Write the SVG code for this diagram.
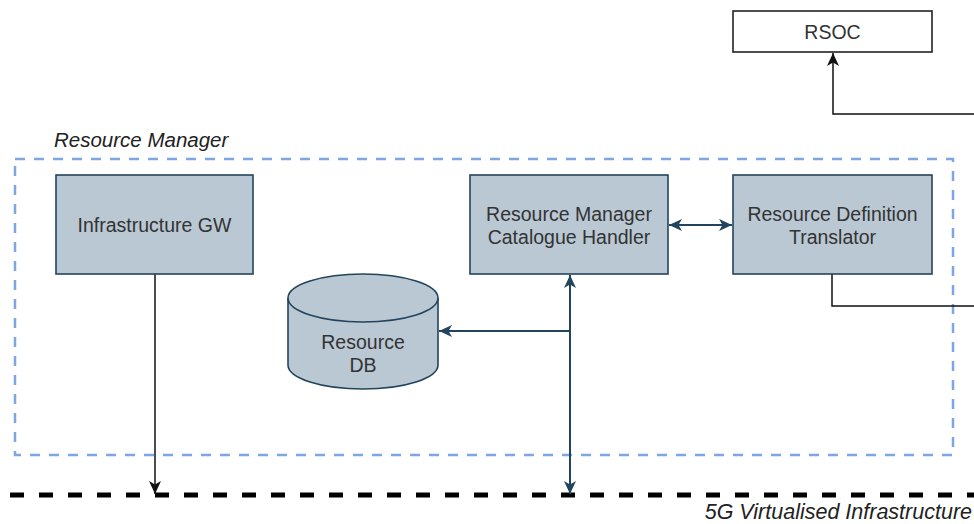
<svg xmlns="http://www.w3.org/2000/svg" width="974" height="524" viewBox="0 0 974 524">
  <defs>
    <style>
      .node rect, .node path.body, .node ellipse { fill: #bac8d3; stroke: #23445d; stroke-width: 1.6; }
      .label { font-family: "Liberation Sans", Arial, sans-serif; font-size: 19.5px; fill: #333333; text-anchor: middle; }
      .title { font-family: "Liberation Sans", Arial, sans-serif; font-style: italic; fill: #222222; }
      .blue { fill: none; stroke: #23445d; stroke-width: 2; }
      .dark { fill: none; stroke: #111111; stroke-width: 1.5; }
    </style>
    <marker id="arrowBlue" markerUnits="userSpaceOnUse" markerWidth="15" markerHeight="13" refX="13" refY="6.5" orient="auto-start-reverse">
      <path d="M0,0.5 L13,6.5 L0,12.5 L3.5,6.5 Z" fill="#23445d"/>
    </marker>
    <marker id="arrowDark" markerUnits="userSpaceOnUse" markerWidth="15" markerHeight="13" refX="13" refY="6.5" orient="auto-start-reverse">
      <path d="M0,0.5 L13,6.5 L0,12.5 L3.5,6.5 Z" fill="#111111"/>
    </marker>
  </defs>

  <rect width="974" height="524" fill="#ffffff"/>

  <!-- Resource Manager boundary -->
  <g id="resource-manager">
    <rect x="15" y="159" width="938" height="296" fill="none" stroke="#7ea6e0" stroke-width="2.5" stroke-dasharray="10 9"/>
    <text class="title" x="54" y="147" font-size="20.5">Resource Manager</text>
  </g>

  <!-- 5G infrastructure boundary line -->
  <g id="virtualised-infrastructure">
    <line x1="10" y1="495" x2="974" y2="495" stroke="#000000" stroke-width="5" stroke-dasharray="14 15"/>
    <text class="title" x="972" y="519" font-size="21.5" text-anchor="end">5G Virtualised Infrastructure</text>
  </g>

  <!-- Connectors -->
  <g id="connectors">
    <path class="dark" d="M155,274 V494" marker-end="url(#arrowDark)"/>
    <path class="blue" d="M570,494 V275" marker-start="url(#arrowBlue)" marker-end="url(#arrowBlue)"/>
    <path class="blue" d="M570,331 H439" marker-end="url(#arrowBlue)"/>
    <path class="blue" d="M669,225 H732" marker-start="url(#arrowBlue)" marker-end="url(#arrowBlue)"/>
    <path class="dark" d="M832,274 V306 H974"/>
    <path class="dark" d="M974,114 H833 V53" marker-end="url(#arrowDark)"/>
  </g>

  <g id="rsoc" class="node">
    <rect x="733" y="11" width="199" height="41" style="fill:#ffffff;stroke:#222222"/>
    <text class="label" x="832.5" y="39">RSOC</text>
  </g>

  <g id="infrastructure-gw" class="node">
    <rect x="56" y="175" width="197" height="99"/>
    <text class="label" x="154.5" y="232">Infrastructure GW</text>
  </g>

  <g id="catalogue-handler" class="node">
    <rect x="470" y="175" width="198" height="99"/>
    <text class="label" x="569" y="221">Resource Manager</text>
    <text class="label" x="569" y="244">Catalogue Handler</text>
  </g>

  <g id="definition-translator" class="node">
    <rect x="733" y="175" width="199" height="99"/>
    <text class="label" x="832.5" y="221">Resource Definition</text>
    <text class="label" x="832.5" y="244">Translator</text>
  </g>

  <g id="resource-db" class="node">
    <path class="body" d="M288,298 V365 A75,24 0 0 0 438,365 V298"/>
    <ellipse cx="363" cy="298" rx="75" ry="24"/>
    <text class="label" x="363" y="349">Resource</text>
    <text class="label" x="363" y="372">DB</text>
  </g>
</svg>
